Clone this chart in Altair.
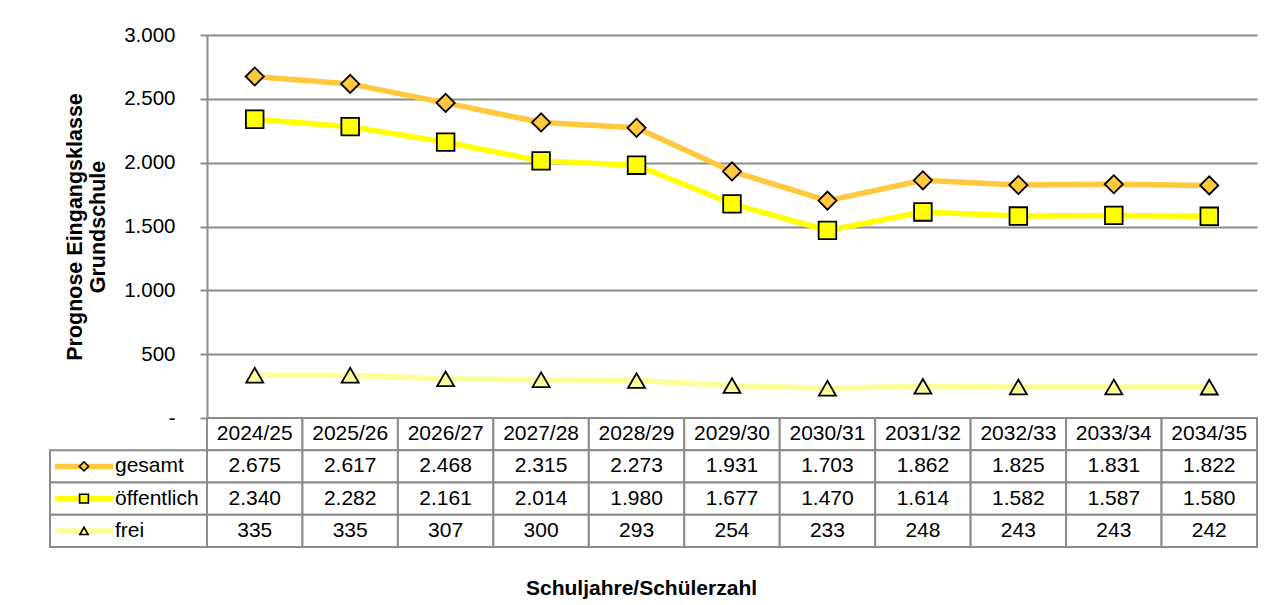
import altair as alt
import pandas as pd

years = ["2024/25", "2025/26", "2026/27", "2027/28", "2028/29", "2029/30",
         "2030/31", "2031/32", "2032/33", "2033/34", "2034/35"]
series = ["gesamt", "öffentlich", "frei"]
gesamt = [2675, 2617, 2468, 2315, 2273, 1931, 1703, 1862, 1825, 1831, 1822]
oeffentlich = [2340, 2282, 2161, 2014, 1980, 1677, 1470, 1614, 1582, 1587, 1580]
frei = [335, 335, 307, 300, 293, 254, 233, 248, 243, 243, 242]
y_ticks = [0, 500, 1000, 1500, 2000, 2500, 3000]

y_title = ["Prognose Eingangsklasse", "Grundschule"]
x_title = "Schuljahre/Schülerzahl"

line_colors = ["#FFC83D", "#FFFF00", "#FFFF99"]
shapes = ["diamond", "square", "triangle-up"]

FONT = "Liberation Sans"
GRID = "#8c8c8c"


def de(v):
    return f"{v:,}".replace(",", ".")


rows = []
for s, vals in zip(series, [gesamt, oeffentlich, frei]):
    for yr, v in zip(years, vals):
        rows.append({"Jahr": yr, "Reihe": s, "Wert": v})
df = pd.DataFrame(rows)

row_order = ["hdr"] + series
trows = [{"Jahr": yr, "Zeile": "hdr", "Text": yr} for yr in years]
for r in rows:
    trows.append({"Jahr": r["Jahr"], "Zeile": r["Reihe"], "Text": de(r["Wert"])})
tdf = pd.DataFrame(trows)
ldf = pd.DataFrame({"Zeile": series})

color_scale = alt.Scale(domain=series, range=line_colors)
shape_scale = alt.Scale(domain=series, range=shapes)

PW, PH = 1050, 383
LW = 157
RH = 129

# ---- top: line chart ----
x_top = alt.X("Jahr:N", sort=years, scale=alt.Scale(type="point", padding=0.5), axis=None)
y_top = alt.Y(
    "Wert:Q",
    scale=alt.Scale(domain=[0, 3000], nice=False),
    axis=alt.Axis(
        values=y_ticks,
        labelExpr="datum.value == 0 ? '-' : replace(format(datum.value, ',d'), ',', '.')",
        grid=True, gridColor=GRID, gridWidth=2,
        domainColor=GRID, domainWidth=2,
        tickColor=GRID, tickWidth=2, tickSize=7,
        labelFontSize=20.5, labelColor="black", labelFont=FONT, labelPadding=25,
        title=y_title, titleFont=FONT, titleFontSize=21.5, titleFontWeight="bold",
        titleColor="black", titlePadding=14, titleLineHeight=23,
    ),
)

lines = alt.Chart(df).mark_line(strokeWidth=5.5).encode(
    x=x_top, y=y_top,
    color=alt.Color("Reihe:N", scale=color_scale, legend=None),
)
points = alt.Chart(df).mark_point(filled=True, stroke="black", strokeWidth=1.8, opacity=1).encode(
    x=x_top, y=y_top,
    fill=alt.Fill("Reihe:N", scale=color_scale, legend=None),
    shape=alt.Shape("Reihe:N", scale=shape_scale, legend=None),
    size=alt.Size("Reihe:N", scale=alt.Scale(domain=series, range=[330, 290, 270]), legend=None),
)
top = alt.layer(lines, points).properties(width=PW, height=PH)

# ---- table ----
band = alt.Scale(type="band", paddingInner=0, paddingOuter=0)
rband = alt.Scale(type="band", paddingInner=0, paddingOuter=0, domain=row_order)
tx = alt.X("Jahr:N", sort=years, scale=band, axis=None)
ty = alt.Y("Zeile:N", sort=row_order, scale=rband, axis=None)
txc = alt.X("Jahr:N", sort=years, scale=band, axis=None, bandPosition=0.5)
tyc = alt.Y("Zeile:N", sort=row_order, scale=rband, axis=None, bandPosition=0.5)

cells = alt.Chart(tdf).mark_rect(fill="white", stroke=GRID, strokeWidth=2).encode(x=tx, y=ty)
texts = alt.Chart(tdf).mark_text(fontSize=21, font=FONT, color="black").encode(
    x=txc, y=tyc, text="Text:N",
)
table = alt.layer(cells, texts).properties(width=PW, height=RH)

# ---- legend column ----
lcells = alt.Chart(ldf).mark_rect(fill="white", stroke=GRID, strokeWidth=2).encode(y=ty)
lsw = alt.Chart(ldf).mark_rule(strokeWidth=5.5).encode(
    y=tyc, x=alt.value(5), x2=alt.value(63),
    color=alt.Color("Zeile:N", scale=color_scale, legend=None),
)
lpt = alt.Chart(ldf).mark_point(filled=True, stroke="black", strokeWidth=1.6, opacity=1).encode(
    y=tyc, x=alt.value(34),
    fill=alt.Fill("Zeile:N", scale=color_scale, legend=None),
    shape=alt.Shape("Zeile:N", scale=shape_scale, legend=None),
    size=alt.Size("Zeile:N", scale=alt.Scale(domain=series, range=[85, 70, 75]), legend=None),
)
ltx = alt.Chart(ldf).mark_text(align="left", fontSize=21, font=FONT, color="black").encode(
    y=tyc, x=alt.value(65), text="Zeile:N",
)
legendcol = alt.layer(lcells, lsw, lpt, ltx).properties(width=LW, height=RH)

empty = alt.Chart(pd.DataFrame({"a": [0]})).mark_text(opacity=0).encode(
    text=alt.value(" ")
).properties(width=LW, height=PH)

chart = alt.concat(
    empty, top, legendcol, table, columns=2, spacing=0, bounds="flush", align="each"
).resolve_scale(
    size="independent"
).properties(
    title=alt.TitleParams(x_title, orient="bottom", anchor="middle", fontSize=21,
                          fontWeight="bold", font=FONT, color="black", offset=30, dx=-12),
    padding={"left": 41, "top": 17, "right": 0, "bottom": 0},
    background="white",
).configure_view(stroke=None).configure_axis(labelFont=FONT, titleFont=FONT)

chart.save("out.html", embed_options={"renderer": "svg", "actions": False})
